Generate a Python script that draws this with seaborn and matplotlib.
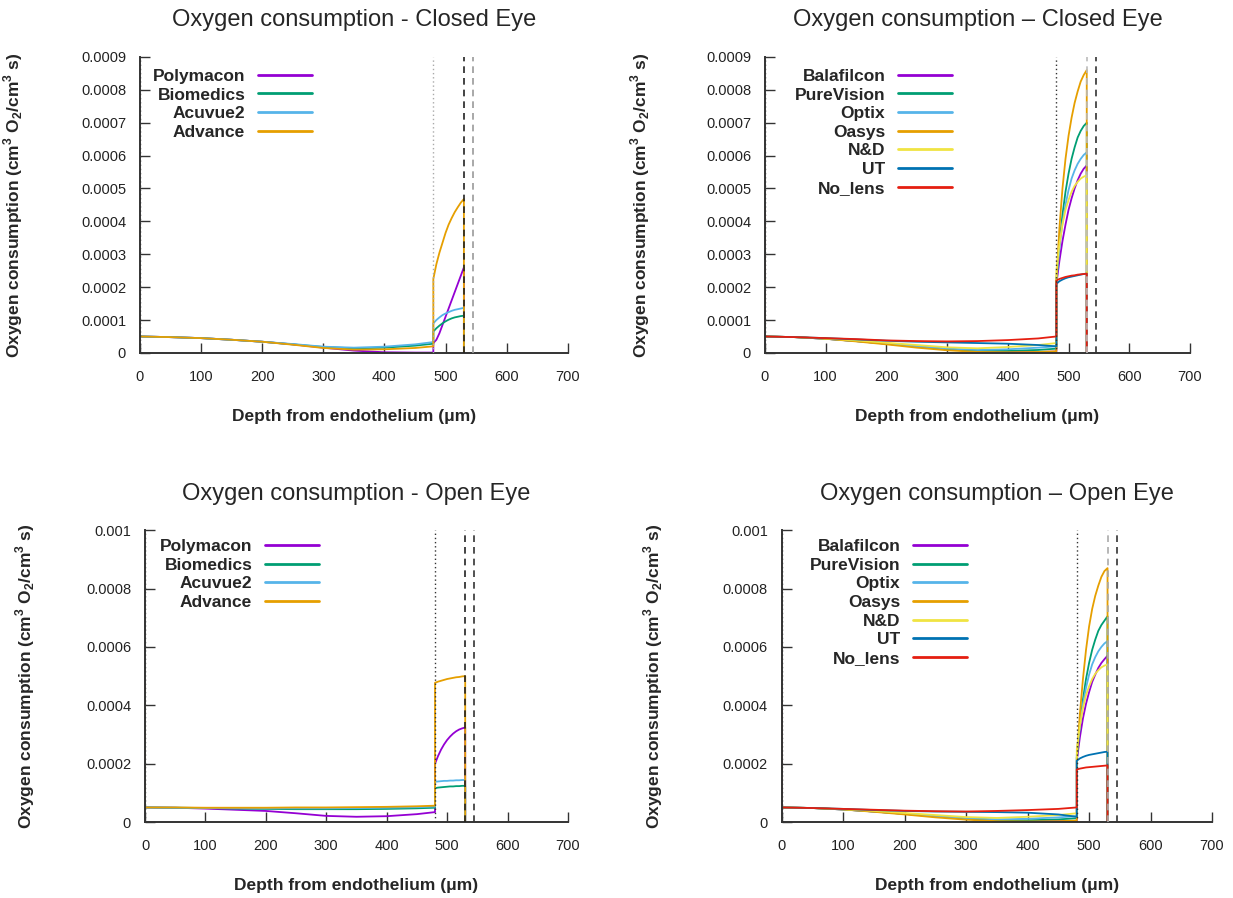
"""Oxygen consumption profiles through the cornea, closed and open eye."""

import matplotlib

matplotlib.use("Agg")
import matplotlib.pyplot as plt
import numpy as np
import pandas as pd
import seaborn as sns
from matplotlib.ticker import FuncFormatter

# depth grid (um): stroma up to the epithelium boundary, then the epithelium
stroma_depth = [0, 50, 100, 150, 200, 250, 300, 350, 400, 450, 480]
epi_depth = [480, 485, 490, 495, 500, 505, 510, 515, 520, 525, 530]

hydrogel_lenses = ["Polymacon", "Biomedics", "Acuvue2", "Advance"]
sihy_lenses = ["Balafilcon", "PureVision", "Optix", "Oasys", "N&D", "UT", "No_lens"]

# all rates below in units of 1e-5 cm3 O2 / (cm3 s)
closed_hydro_stroma = {
    "Polymacon": [5.0, 4.8, 4.5, 4.0, 3.4, 2.6, 1.6, 0.7, 0.2, 0.1, 0.1],
    "Biomedics": [5.0, 4.8, 4.5, 4.0, 3.4, 2.6, 1.8, 1.4, 1.6, 2.2, 2.8],
    "Acuvue2": [5.0, 4.8, 4.5, 4.0, 3.4, 2.7, 1.9, 1.6, 1.9, 2.6, 3.3],
    "Advance": [5.0, 4.8, 4.5, 4.0, 3.4, 2.5, 1.5, 1.0, 1.1, 1.5, 2.0],
}
closed_hydro_epi = {
    "Polymacon": [3.0, 4.0, 6.0, 8.5, 11.0, 13.5, 16.0, 18.5, 21.0, 23.5, 26.0],
    "Biomedics": [6.5, 7.5, 8.3, 9.0, 9.6, 10.1, 10.5, 10.8, 11.0, 11.2, 11.3],
    "Acuvue2": [9.0, 10.0, 10.8, 11.5, 12.0, 12.4, 12.8, 13.1, 13.3, 13.5, 13.7],
    "Advance": [22.5, 27.0, 30.5, 33.5, 36.5, 39.0, 41.0, 42.8, 44.3, 45.7, 46.8],
}

closed_sihy_stroma = {
    "Balafilcon": [5.0, 4.8, 4.3, 3.6, 2.8, 1.9, 1.1, 0.5, 0.3, 0.3, 0.4],
    "PureVision": [5.0, 4.8, 4.3, 3.6, 2.8, 1.9, 1.1, 0.6, 0.6, 0.9, 1.3],
    "Optix": [5.0, 4.8, 4.3, 3.6, 2.9, 2.0, 1.3, 0.9, 1.1, 1.6, 2.0],
    "Oasys": [5.0, 4.8, 4.3, 3.5, 2.6, 1.6, 0.8, 0.3, 0.2, 0.3, 0.5],
    "N&D": [5.0, 4.8, 4.4, 3.8, 3.1, 2.4, 1.7, 1.4, 1.8, 2.4, 3.0],
    "UT": [5.0, 4.8, 4.5, 4.1, 3.7, 3.4, 3.2, 3.0, 2.8, 2.4, 2.0],
    "No_lens": [5.0, 4.8, 4.5, 4.2, 3.8, 3.6, 3.5, 3.6, 3.9, 4.4, 5.0],
}
closed_sihy_epi = {
    "Balafilcon": [21.0, 28.0, 34.0, 39.0, 43.5, 47.0, 50.0, 52.5, 54.5, 56.0, 57.0],
    "PureVision": [22.0, 33.0, 42.0, 49.0, 54.5, 59.0, 62.5, 65.5, 67.5, 69.0, 70.0],
    "Optix": [22.0, 32.0, 39.5, 45.0, 49.5, 53.0, 55.5, 57.5, 59.0, 60.2, 61.0],
    "Oasys": [22.0, 38.0, 50.0, 59.0, 66.0, 71.5, 76.0, 79.5, 82.5, 84.5, 86.0],
    "N&D": [25.0, 33.0, 39.0, 43.5, 46.5, 49.0, 50.8, 52.0, 53.0, 53.6, 54.0],
    "UT": [21.0, 21.8, 22.3, 22.7, 23.0, 23.2, 23.4, 23.6, 23.8, 24.0, 24.1],
    "No_lens": [22.0, 22.5, 22.8, 23.1, 23.3, 23.5, 23.6, 23.8, 23.9, 24.0, 24.1],
}

open_hydro_stroma = {
    "Polymacon": [5.0, 4.9, 4.6, 4.2, 3.8, 3.0, 2.1, 1.8, 2.0, 2.7, 3.4],
    "Biomedics": [5.0, 4.9, 4.8, 4.6, 4.5, 4.4, 4.4, 4.4, 4.5, 4.7, 4.9],
    "Acuvue2": [5.0, 4.9, 4.8, 4.7, 4.7, 4.7, 4.7, 4.8, 4.9, 5.1, 5.3],
    "Advance": [5.0, 5.0, 4.9, 4.9, 4.9, 5.0, 5.0, 5.1, 5.2, 5.4, 5.6],
}
open_hydro_epi = {
    "Polymacon": [20.0, 22.6, 24.8, 26.6, 28.1, 29.3, 30.3, 31.1, 31.7, 32.1, 32.4],
    "Biomedics": [11.6, 11.8, 11.9, 12.0, 12.1, 12.2, 12.2, 12.3, 12.3, 12.4, 12.4],
    "Acuvue2": [13.8, 13.9, 14.0, 14.1, 14.1, 14.2, 14.2, 14.3, 14.3, 14.4, 14.4],
    "Advance": [47.7, 48.1, 48.4, 48.7, 49.0, 49.2, 49.4, 49.6, 49.7, 49.9, 50.0],
}

open_sihy_stroma = {
    "Balafilcon": [5.0, 4.8, 4.3, 3.6, 2.8, 1.9, 1.1, 0.5, 0.3, 0.3, 0.4],
    "PureVision": [5.0, 4.8, 4.3, 3.6, 2.8, 1.9, 1.1, 0.6, 0.6, 0.9, 1.3],
    "Optix": [5.0, 4.8, 4.3, 3.6, 2.9, 2.0, 1.3, 0.9, 1.1, 1.6, 2.0],
    "Oasys": [5.0, 4.8, 4.3, 3.5, 2.6, 1.6, 0.8, 0.3, 0.2, 0.3, 0.5],
    "N&D": [5.0, 4.8, 4.4, 3.8, 3.1, 2.4, 1.7, 1.4, 1.8, 2.4, 3.0],
    "UT": [5.0, 4.8, 4.5, 4.1, 3.8, 3.6, 3.5, 3.4, 3.2, 2.6, 1.8],
    "No_lens": [5.0, 4.8, 4.5, 4.2, 3.9, 3.7, 3.6, 3.8, 4.1, 4.5, 5.0],
}
open_sihy_epi = {
    "Balafilcon": [21.0, 29.0, 35.5, 40.5, 44.5, 48.0, 50.5, 52.8, 54.5, 55.8, 57.0],
    "PureVision": [22.0, 33.0, 42.0, 49.0, 54.5, 59.0, 62.5, 65.5, 67.5, 69.0, 70.5],
    "Optix": [23.0, 33.0, 40.5, 46.0, 50.5, 54.0, 56.5, 58.5, 60.0, 61.2, 62.0],
    "Oasys": [22.0, 37.0, 49.0, 59.0, 67.0, 73.0, 77.5, 81.0, 84.0, 86.0, 87.0],
    "N&D": [25.0, 33.0, 39.0, 43.5, 46.5, 49.0, 50.8, 52.0, 53.0, 53.6, 54.0],
    "UT": [21.0, 21.8, 22.3, 22.7, 23.0, 23.2, 23.4, 23.6, 23.8, 24.0, 24.1],
    "No_lens": [18.0, 18.3, 18.5, 18.7, 18.8, 18.9, 19.0, 19.1, 19.2, 19.3, 19.4],
}

# first grid point of some runs sits high at the endothelium
closed_sihy_spike = ("No_lens", 44.0)
open_hydro_spike = ("Advance", 47.0)
open_sihy_spike = ("No_lens", 42.0)

# gnuplot 5 default line colours
lens_colors = {
    "Polymacon": "#9400d3", "Biomedics": "#009e73", "Acuvue2": "#56b4e9",
    "Advance": "#e69f00",
    "Balafilcon": "#9400d3", "PureVision": "#009e73", "Optix": "#56b4e9",
    "Oasys": "#e69f00", "N&D": "#f0e442", "UT": "#0072b2", "No_lens": "#e51e10",
}


def profile_frame(lenses, stroma, epi, spike=None):
    parts = []
    for lens in lenses:
        depth = stroma_depth + epi_depth + [epi_depth[-1]]
        rate = stroma[lens] + epi[lens] + [0.0]
        if spike is not None and spike[0] == lens:
            depth = [0] + depth
            rate = [spike[1]] + rate
        parts.append(pd.DataFrame({
            "depth": depth,
            "rate": np.asarray(rate) * 1e-5,
            "lens": lens,
        }))
    return pd.concat(parts, ignore_index=True)


sns.set_style("ticks")
plt.rcParams["font.family"] = ["Liberation Sans", "DejaVu Sans"]
plt.rcParams["mathtext.fontset"] = "custom"
plt.rcParams["mathtext.rm"] = "Liberation Sans"
plt.rcParams["mathtext.bf"] = "Liberation Sans:bold"

fig = plt.figure(figsize=(12.33, 8.98), dpi=100)

panels = [
    # title, lenses, stroma, epi, spike, ymax, ystep, axes rect, legend anchor, boundary colours
    ("Oxygen consumption - Closed Eye", hydrogel_lenses, closed_hydro_stroma,
     closed_hydro_epi, None, 0.0009, 0.0001, [0.1135, 0.607, 0.347, 0.3296],
     (0.03, 0.96), ("#aaaaaa", "#222222", "#999999"), -0.269),
    ("Oxygen consumption \u2013 Closed Eye", sihy_lenses, closed_sihy_stroma,
     closed_sihy_epi, closed_sihy_spike, 0.0009, 0.0001, [0.6204, 0.607, 0.3447, 0.3296],
     (0.07, 0.96), ("#333333", "#bbbbbb", "#333333"), -0.266),
    ("Oxygen consumption - Open Eye", hydrogel_lenses, open_hydro_stroma,
     open_hydro_epi, open_hydro_spike, 0.001, 0.0002, [0.1176, 0.0846, 0.343, 0.325],
     (0.035, 0.97), ("#333333", "#222222", "#333333"), -0.255),
    ("Oxygen consumption \u2013 Open Eye", sihy_lenses, open_sihy_stroma,
     open_sihy_epi, open_sihy_spike, 0.001, 0.0002, [0.634, 0.0846, 0.349, 0.325],
     (0.065, 0.97), ("#333333", "#aaaaaa", "#333333"), -0.272),
]

for (title, lenses, stroma, epi, spike, ymax, ystep, rect,
     anchor, bcolors, ylab_x) in panels:
    ax = fig.add_axes(rect)
    df = profile_frame(lenses, stroma, epi, spike)
    sns.lineplot(
        data=df, x="depth", y="rate", hue="lens", hue_order=lenses,
        palette=lens_colors, sort=False, estimator=None, linewidth=1.3, ax=ax,
    )

    # layer boundaries: endothelium, epithelium, lens surfaces
    ax.axvline(0, color="#333333", ls=(0, (1, 2)), lw=1.0, zorder=5)
    ax.axvline(480, color=bcolors[0], ls=(0, (1, 2)), lw=1.0, zorder=5)
    ax.axvline(530, color=bcolors[1], ls=(0, (4, 3)), lw=1.2, zorder=5)
    ax.axvline(545, color=bcolors[2], ls=(0, (4, 3)), lw=1.2, zorder=5)

    ax.set_xlim(0, 700)
    ax.set_ylim(0, ymax)
    ax.set_xticks(range(0, 701, 100))
    ax.set_yticks(np.arange(0, ymax + ystep / 2, ystep))
    ax.yaxis.set_major_formatter(FuncFormatter(lambda v, _: f"{v:g}"))
    ax.tick_params(axis="both", direction="in", length=7, width=1,
                   color="#333333", labelsize=10.5, labelcolor="#222222")
    ax.tick_params(axis="x", pad=12)
    ax.tick_params(axis="y", pad=10)
    sns.despine(ax=ax)
    for side in ("left", "bottom"):
        ax.spines[side].set_color("#333333")
        ax.spines[side].set_linewidth(1.4)

    ax.set_title(title, fontsize=17, pad=22)
    ax.set_xlabel("Depth from endothelium (\u03bcm)", fontsize=12.5,
                  fontweight="bold", labelpad=18)
    ax.set_ylabel(r"Oxygen consumption (cm$^{\mathbf{3}}$ O$_{\mathbf{2}}$/cm$^{\mathbf{3}}$ s)",
                  fontsize=12.5, fontweight="bold")
    ax.yaxis.set_label_coords(ylab_x, 0.5)

    old = ax.get_legend()
    handles = list(old.legend_handles)
    labels = [t.get_text() for t in old.get_texts()]
    old.remove()
    for h in handles:
        h.set_linewidth(2.0)
    ax.legend(handles, labels, loc="upper left", bbox_to_anchor=anchor,
              markerfirst=False, frameon=False, borderaxespad=0, borderpad=0,
              handlelength=3.1, handletextpad=0.75, labelspacing=0.2,
              prop={"weight": "bold", "size": 12.5})

fig.savefig("out.png", dpi=100)
